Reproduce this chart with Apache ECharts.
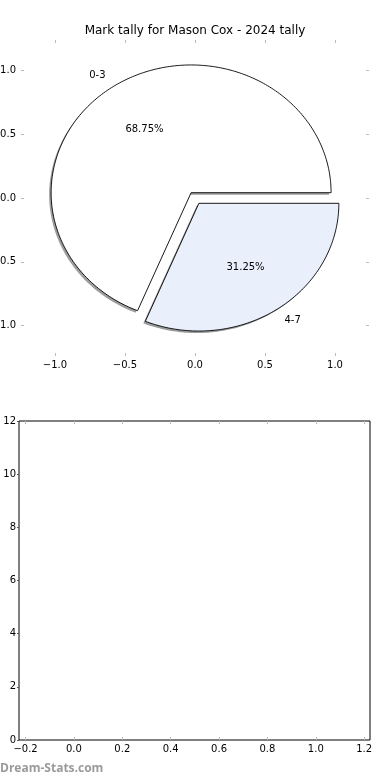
<!DOCTYPE html>
<html><head><meta charset="utf-8">
<script src="https://cdn.jsdelivr.net/npm/echarts@6/dist/echarts.min.js"></script>
<style>html,body{margin:0;padding:0;background:#fff}#c{width:390px;height:780px}</style>
</head><body><div id="c"></div>
<script>
const chartTitle = 'Mark tally for Mason Cox - 2024 tally';
const categories = ['0-3', '4-7'];
const values = [11, 5];
const sliceColors = ['#FFFFFF', '#E9EFFB'];
const shadowColors = ['rgba(77,77,77,0.55)', 'rgba(70,72,75,0.55)'];
const explode = [0.05, 0.05];
const pieTicks = [-1.0, -0.5, 0.0, 0.5, 1.0];
const lowerXTicks = [-0.2, 0.0, 0.2, 0.4, 0.6, 0.8, 1.0, 1.2];
const watermark = 'Dream-Stats.com';

const FONT = 'DejaVu Sans';
const total = values.reduce((a, b) => a + b, 0);
let acc = 0;
const slices = values.map((v, i) => {
  const t1 = acc / total * 2 * Math.PI; acc += v;
  const t2 = acc / total * 2 * Math.PI;
  const mid = (t1 + t2) / 2;
  return { t1, t2, mid, cx: explode[i] * Math.cos(mid), cy: explode[i] * Math.sin(mid), pct: v / total * 100 };
});
const fmt = v => (v < 0 ? '\u2212' + Math.abs(v).toFixed(1) : v.toFixed(1));

function wedgePoints(api, s, dx, dy) {
  const pts = [];
  const c = api.coord([s.cx, s.cy]);
  pts.push([c[0] + dx, c[1] + dy]);
  const n = Math.max(8, Math.ceil((s.t2 - s.t1) / (Math.PI / 180)));
  for (let k = 0; k <= n; k++) {
    const t = s.t1 + (s.t2 - s.t1) * k / n;
    const p = api.coord([s.cx + Math.cos(t), s.cy + Math.sin(t)]);
    pts.push([p[0] + dx, p[1] + dy]);
  }
  return pts;
}

const pieData = categories.map((c, i) => ({ name: c, value: [0, 0, i] }));

const chart = echarts.init(document.getElementById('c'), null, { renderer: 'canvas' });
const tickStyle = { color: '#bbbbbb', width: 1 };
const noLine = { show: false, onZero: false };
chart.setOption({
  animation: false,
  backgroundColor: '#ffffff',
  title: {
    text: chartTitle, left: 'center', top: 20,
    textStyle: { fontFamily: FONT, fontSize: 12, fontWeight: 'normal', color: '#000' }
  },
  grid: [
    { left: 21, top: 40, width: 348, height: 316, show: false, containLabel: false, outerBoundsMode: 'none' },
    { left: 19, top: 421, width: 351, height: 319, show: true, borderColor: '#000', borderWidth: 1, backgroundColor: 'transparent', containLabel: false, outerBoundsMode: 'none' }
  ],
  xAxis: [
    { type: 'value', gridIndex: 0, position: 'bottom', min: -1.243, max: 1.243,
      axisLine: noLine, splitLine: { show: false },
      axisTick: { show: true, inside: true, length: 3, lineStyle: tickStyle, customValues: pieTicks },
      axisLabel: { show: true, customValues: pieTicks, formatter: fmt, margin: 4, color: '#000', fontSize: 10, fontFamily: FONT } },
    { type: 'value', gridIndex: 0, position: 'top', min: -1.243, max: 1.243,
      axisLine: noLine, splitLine: { show: false },
      axisTick: { show: true, inside: true, length: 3, lineStyle: tickStyle, customValues: pieTicks },
      axisLabel: { show: false } },
    { type: 'value', gridIndex: 1, position: 'bottom', min: -0.227, max: 1.224,
      axisLine: noLine, splitLine: { show: false },
      axisTick: { show: true, inside: true, length: 3, lineStyle: tickStyle, customValues: lowerXTicks },
      axisLabel: { show: true, customValues: lowerXTicks, formatter: fmt, margin: 4, color: '#000', fontSize: 10, fontFamily: FONT } },
    { type: 'value', gridIndex: 1, position: 'top', min: -0.227, max: 1.224,
      axisLine: noLine, splitLine: { show: false },
      axisTick: { show: true, inside: true, length: 3, lineStyle: tickStyle, customValues: lowerXTicks },
      axisLabel: { show: false } }
  ],
  yAxis: [
    { type: 'value', gridIndex: 0, position: 'left', min: -1.237, max: 1.237,
      axisLine: noLine, splitLine: { show: false },
      axisTick: { show: true, inside: true, length: 3, lineStyle: tickStyle, customValues: pieTicks },
      axisLabel: { show: true, customValues: pieTicks, formatter: fmt, margin: 5, color: '#000', fontSize: 10, fontFamily: FONT } },
    { type: 'value', gridIndex: 0, position: 'right', min: -1.237, max: 1.237,
      axisLine: noLine, splitLine: { show: false },
      axisTick: { show: true, inside: true, length: 3, lineStyle: tickStyle, customValues: pieTicks },
      axisLabel: { show: false } },
    { type: 'value', gridIndex: 1, position: 'left', min: 0, max: 12, interval: 2,
      axisLine: noLine, splitLine: { show: false },
      axisTick: { show: true, inside: false, length: 2, lineStyle: { color: '#555', width: 1 } },
      axisLabel: { show: true, margin: 3, color: '#000', fontSize: 10, fontFamily: FONT } }
  ],
  series: [
    { type: 'custom', name: 'shadow', coordinateSystem: 'cartesian2d', xAxisIndex: 0, yAxisIndex: 0, z: 1,
      silent: true, data: pieData,
      renderItem: (params, api) => {
        const i = params.dataIndex, s = slices[i];
        return { type: 'polygon', shape: { points: wedgePoints(api, s, -2, 2) },
          style: { fill: shadowColors[i], stroke: null } };
      } },
    { type: 'custom', name: 'wedges', coordinateSystem: 'cartesian2d', xAxisIndex: 0, yAxisIndex: 0, z: 2,
      silent: true, data: pieData,
      renderItem: (params, api) => {
        const i = params.dataIndex, s = slices[i];
        const lx = s.cx + 1.1 * Math.cos(s.mid), ly = s.cy + 1.1 * Math.sin(s.mid);
        const px = s.cx + 0.6 * Math.cos(s.mid), py = s.cy + 0.6 * Math.sin(s.mid);
        const lp = api.coord([lx, ly]), pp = api.coord([px, py]);
        return { type: 'group', children: [
          { type: 'polygon', shape: { points: wedgePoints(api, s, 0, 0) },
            style: { fill: sliceColors[i], stroke: '#000', lineWidth: 0.9 } },
          { type: 'text', z2: 10, style: { text: categories[i], x: lp[0], y: lp[1],
            align: lx < 0 ? 'right' : 'left', verticalAlign: 'middle', fill: '#000', font: '10px "DejaVu Sans"' } },
          { type: 'text', z2: 10, style: { text: s.pct.toFixed(2) + '%', x: pp[0], y: pp[1],
            align: 'center', verticalAlign: 'middle', fill: '#000', font: '10px "DejaVu Sans"' } }
        ] };
      } }
  ],
  graphic: [
    { type: 'text', left: 0, top: 763, style: { text: watermark, fill: '#9a9a9a',
      font: 'bold 12px "Open Sans"' } }
  ]
});
</script></body></html>
